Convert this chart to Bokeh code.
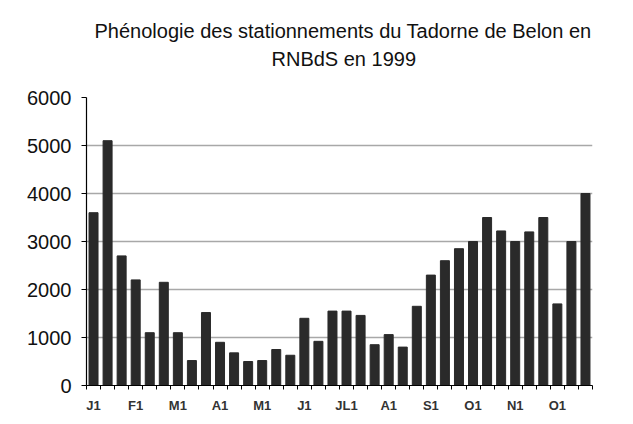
from bokeh.plotting import figure
from bokeh.models import FixedTicker, Title, ColumnDataSource
from bokeh.embed import file_html
from bokeh.resources import INLINE

values = [3600, 5100, 2700, 2200, 1100, 2150, 1100, 520, 1520, 900, 680, 500,
          520, 750, 630, 1400, 920, 1550, 1550, 1460, 850, 1060, 800, 1650,
          2300, 2600, 2850, 3000, 3500, 3220, 3000, 3200, 3500, 1700, 3000, 4000]
tick_labels = ["J1", "F1", "M1", "A1", "M1", "J1", "JL1", "A1", "S1", "O1", "N1", "O1"]
title_line1 = "Phénologie des stationnements du Tadorne de Belon en"
title_line2 = "RNBdS en 1999"
y_ticks = [0, 1000, 2000, 3000, 4000, 5000, 6000]

n = len(values)
xs = list(range(1, n + 1))
src = ColumnDataSource(dict(x=xs, top=values))

FONT = "Liberation Sans"

p = figure(width=625, height=416, output_backend="svg", toolbar_location=None,
           x_range=(0.5, n + 0.5), y_range=(0, 6000),
           min_border_left=86, min_border_right=33, min_border_top=97,
           min_border_bottom=31)

p.vbar(x="x", top="top", width=0.64, source=src, fill_color="#2a2a2a",
       line_color="#2a2a2a")

p.outline_line_color = None
p.background_fill_color = "white"
p.border_fill_color = "white"

# y axis
p.yaxis.ticker = FixedTicker(ticks=y_ticks)
p.yaxis.axis_line_color = "black"
p.yaxis.axis_line_width = 1.2
p.yaxis.major_tick_out = 5
p.yaxis.major_tick_in = 0
p.yaxis.minor_tick_line_color = None
p.yaxis.major_label_text_font = FONT
p.yaxis.major_label_text_font_size = "20px"
p.yaxis.major_label_text_color = "#111111"
p.yaxis.major_label_standoff = 10

# x axis
label_pos = list(range(1, n + 1, 3))
p.xaxis.ticker = FixedTicker(ticks=label_pos, minor_ticks=[i + 0.5 for i in range(0, n + 1)])
p.xaxis.major_label_overrides = {pos: lab for pos, lab in zip(label_pos, tick_labels)}
p.xaxis.axis_line_color = "black"
p.xaxis.axis_line_width = 1.2
p.xaxis.major_tick_line_color = None
p.xaxis.major_tick_out = 4
p.xaxis.major_tick_in = 0
p.xaxis.minor_tick_line_color = "black"
p.xaxis.minor_tick_out = 4
p.xaxis.minor_tick_in = 0
p.xaxis.major_label_text_font = FONT
p.xaxis.major_label_text_font_size = "13px"
p.xaxis.major_label_text_font_style = "bold"
p.xaxis.major_label_text_color = "#333333"
p.xaxis.major_label_standoff = 8

p.xgrid.grid_line_color = None
p.ygrid.ticker = FixedTicker(ticks=[1000, 2000, 3000, 4000, 5000])
p.ygrid.grid_line_color = "#a8a8a8"
p.ygrid.grid_line_width = 1.5

# spacer between plot frame and the two-line title
spacer = Title(text=" ", text_font=FONT, text_font_size="2px", standoff=22)
t2 = Title(text=title_line2, align="left", offset=185, text_font=FONT,
           text_font_size="20px", text_font_style="normal", text_color="#111111",
           standoff=4)
t1 = Title(text=title_line1, align="left", offset=8, text_font=FONT,
           text_font_size="20px", text_font_style="normal", text_color="#111111",
           standoff=4)
p.add_layout(spacer, "above")
p.add_layout(t2, "above")
p.add_layout(t1, "above")

open("out.html", "w").write(file_html(p, INLINE))
